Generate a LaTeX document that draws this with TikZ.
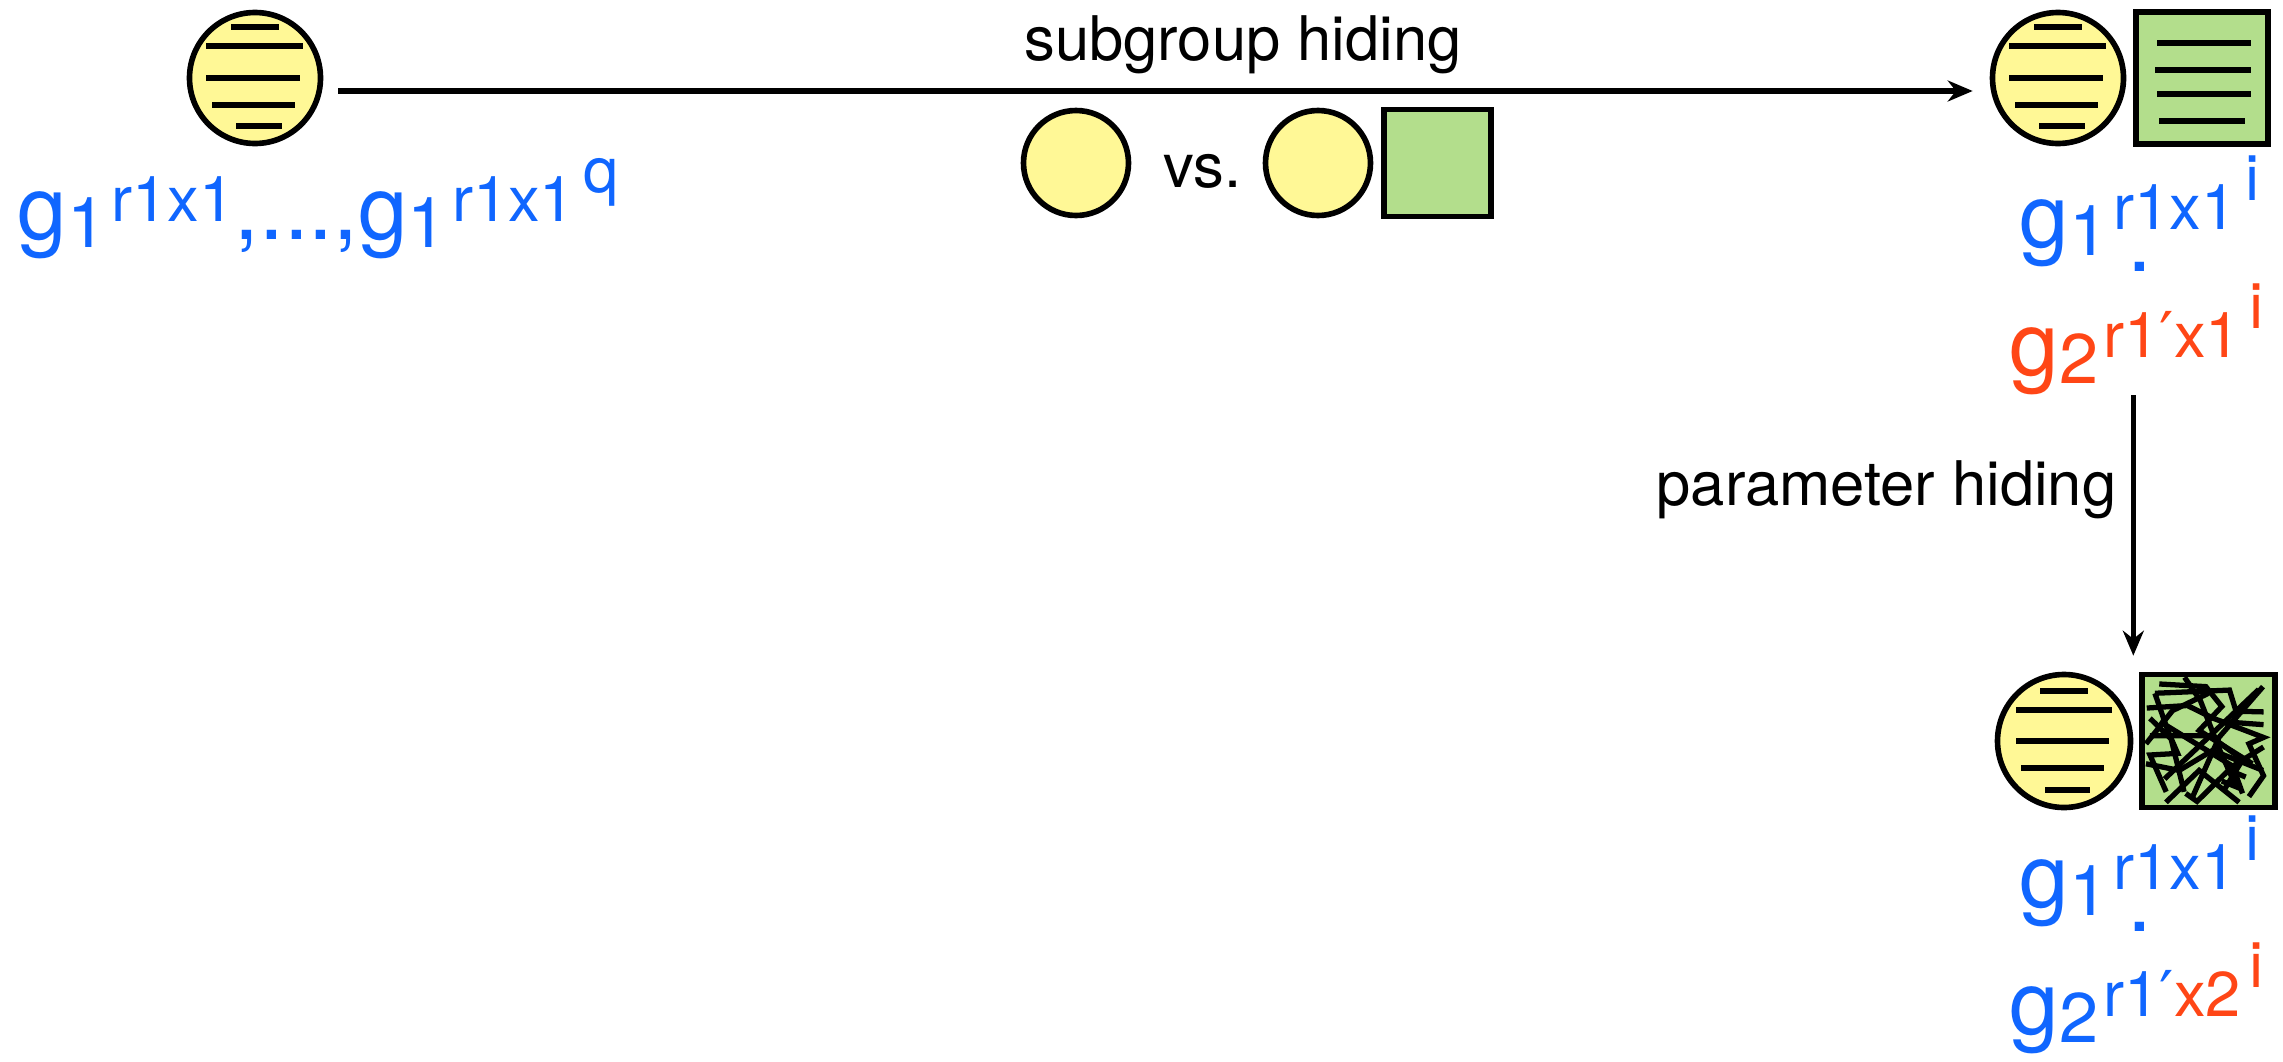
\documentclass[tikz,border=0pt]{standalone}
\usepackage{fontspec}
\setmainfont{TeX Gyre Heros}
\newfontfamily\primefont{DejaVu Sans}
\usepackage{tikz}
\usetikzlibrary{arrows.meta, positioning}
\definecolor{GBlue}{RGB}{16, 102, 255}
\definecolor{GRed}{RGB}{255, 70, 22}
\definecolor{GYellow}{RGB}{255, 248, 150}
\definecolor{GGreen}{RGB}{179, 222, 140}
\newcommand{\gsub}[1]{\raisebox{-0.09em}{\fontsize{20pt}{20pt}\selectfont #1}}
\newcommand{\gsup}[1]{\hspace{0.06em}\raisebox{0.2em}{\fontsize{18pt}{18pt}\selectfont #1}}
\newcommand{\gsupp}[1]{\hspace{0.14em}\raisebox{0.45em}{#1}}
\newcommand{\gprime}{{\primefont ′}}

\begin{document}
\begin{tikzpicture}[
    ydisc/.style={circle, draw=black, line width=1.6pt, fill=GYellow, minimum size=1.31cm, inner sep=0pt},
    gsq/.style={rectangle, draw=black, line width=1.6pt, fill=GGreen, minimum size=1.32cm, inner sep=0pt},
    stripe/.style={line width=1.45pt},
    scribble/.style={line width=1.5pt, line join=miter},
    flow/.style={-{Stealth[length=0.25cm, width=0.21cm]}, line width=1.6pt},
    note/.style={font=\fontsize{17.5pt}{21pt}\selectfont, inner sep=0pt},
    expr/.style={font=\fontsize{25.3pt}{30pt}\selectfont, inner sep=0pt}
  ]
    \useasboundingbox (0,0) rectangle (22.83,10.61);

    % Left element (top left)
    \node[ydisc] (lc) at (2.55, 9.83) {};
    \draw[stripe] ([shift={(-0.24,0.51)}]lc.center) -- ++(0.48,0);
    \draw[stripe] ([shift={(-0.49,0.32)}]lc.center) -- ++(0.97,0);
    \draw[stripe] ([shift={(-0.49,0)}]lc.center) -- ++(0.94,0);
    \draw[stripe] ([shift={(-0.43,-0.27)}]lc.center) -- ++(0.83,0);
    \draw[stripe] ([shift={(-0.19,-0.48)}]lc.center) -- ++(0.46,0);
    \node[expr, text=GBlue, anchor=base west] (ll) at (0.17, 8.22)
      {g\gsub{1}\gsup{r1x1},...,g\gsub{1}\gsup{r1x1\gsupp{q}}};

    % Subgroup hiding (centre)
    \node[note, anchor=base] (sh) at (12.43, 10.01) {subgroup hiding};
    \node[ydisc, minimum size=1.05cm] (mc1) at (10.76, 8.98) {};
    \node[note, anchor=base west] (vs) at (11.63, 8.74) {vs.};
    \node[ydisc, minimum size=1.05cm] (mc2) at (13.18, 8.98) {};
    \node[gsq, minimum size=1.07cm, right=0.08cm of mc2] (ms) {};

    % Pair after subgroup hiding (top right)
    \node[ydisc] (rc) at (20.58, 9.83) {};
    \node[gsq, right=0.07cm of rc] (rs) {};
    \draw[stripe] ([shift={(-0.24,0.51)}]rc.center) -- ++(0.48,0);
    \draw[stripe] ([shift={(-0.49,0.32)}]rc.center) -- ++(0.97,0);
    \draw[stripe] ([shift={(-0.49,0)}]rc.center) -- ++(0.94,0);
    \draw[stripe] ([shift={(-0.43,-0.27)}]rc.center) -- ++(0.83,0);
    \draw[stripe] ([shift={(-0.19,-0.48)}]rc.center) -- ++(0.46,0);
    \draw[stripe] ([shift={(-0.45,0.35)}]rs.center) -- ++(0.94,0);
    \draw[stripe] ([shift={(-0.47,0.08)}]rs.center) -- ++(0.96,0);
    \draw[stripe] ([shift={(-0.45,-0.16)}]rs.center) -- ++(0.94,0);
    \draw[stripe] ([shift={(-0.43,-0.43)}]rs.center) -- ++(0.86,0);
    \node[expr, text=GBlue, anchor=base west] (tr1) at (20.19, 8.14)
      {g\gsub{1}\rlap{\raisebox{-0.28em}{\hspace{0.22em}.}}\gsup{r1x1\gsupp{i}}};
    \node[expr, text=GRed, anchor=base west] (tr2) at (20.09, 6.86)
      {g\gsub{2}\gsup{r1\gprime x1\gsupp{i}}};

    % Pair after parameter hiding (bottom right)
    \node[ydisc, minimum size=1.33cm] (bc) at (20.64, 3.20) {};
    \node[gsq, minimum size=1.33cm, right=0.06cm of bc] (bs) {};
    \draw[stripe] ([shift={(-0.24,0.50)}]bc.center) -- ++(0.48,0);
    \draw[stripe] ([shift={(-0.48,0.31)}]bc.center) -- ++(0.96,0);
    \draw[stripe] ([shift={(-0.48,0)}]bc.center) -- ++(0.93,0);
    \draw[stripe] ([shift={(-0.43,-0.27)}]bc.center) -- ++(0.83,0);
    \draw[stripe] ([shift={(-0.19,-0.49)}]bc.center) -- ++(0.45,0);
    \begin{scope}[shift={(bs.south west)}, x=1.33cm, y=1.33cm, scribble]
      \draw (0.056,0.769) -- (0.361,0.788) -- (0.556,0.692) -- (0.934,0.548) -- (0.824,0.5) -- (0.934,0.26) -- (0.824,0.103);
      \draw (0.117,0.88) -- (0.678,0.904) -- (0.727,0.745) -- (0.934,0.74);
      \draw (0.34,1.0) -- (0.459,0.825) -- (0.605,0.452) -- (0.702,0.236);
      \draw (0.898,0.909) -- (0.19,0.236);
      \draw (0.117,0.88) -- (0.215,0.596) -- (0.288,0.428) -- (0.08,0.416) -- (0.202,0.139);
      \draw (0.08,0.56) -- (0.532,0.56) -- (0.776,0.38) -- (0.629,0.139);
      \draw (0.154,0.668) -- (0.702,0.332) -- (0.776,0.127);
      \draw (0.349,0.127) -- (0.434,0.067) -- (0.702,0.332) -- (0.934,0.476);
      \draw (0.08,0.692) -- (0.239,0.536) -- (0.337,0.139);
      \draw (0.605,0.668) -- (0.934,0.644);
      \draw (0.15,0.95) -- (0.5,0.93) -- (0.62,0.78) -- (0.45,0.6) -- (0.85,0.35);
      \draw (0.05,0.35) -- (0.3,0.3) -- (0.55,0.45) -- (0.93,0.3);
      \draw (0.2,0.06) -- (0.45,0.3) -- (0.75,0.06);
      \draw (0.93,0.93) -- (0.6,0.55) -- (0.4,0.1);
      \draw (0.05,0.5) -- (0.25,0.75) -- (0.52,0.88);
      \draw (0.62,0.22) -- (0.72,0.18) -- (0.68,0.3) -- (0.8,0.25);
    \end{scope}
    \node[expr, text=GBlue, anchor=base west] (br1) at (20.19, 1.54)
      {g\gsub{1}\rlap{\raisebox{-0.28em}{\hspace{0.22em}.}}\gsup{r1x1\gsupp{i}}};
    \node[expr, text=GBlue, anchor=base west] (br2) at (20.09, 0.27)
      {g\gsub{2}\gsup{r1\gprime\textcolor{GRed}{x2\gsupp{i}}}};

    % Flechas
    \draw[flow, shorten <=0.15cm, shorten >=0.17cm] ([yshift=-0.13cm]lc.east) -- ([yshift=-0.13cm]rc.west);
    \draw[flow, shorten >=0.16cm] (tr2.south -| bc.east) -- (bc.north -| bc.east);
    \node[note, anchor=base east] (ph) at (21.17, 5.56) {parameter hiding};
  \end{tikzpicture}
\end{document}
